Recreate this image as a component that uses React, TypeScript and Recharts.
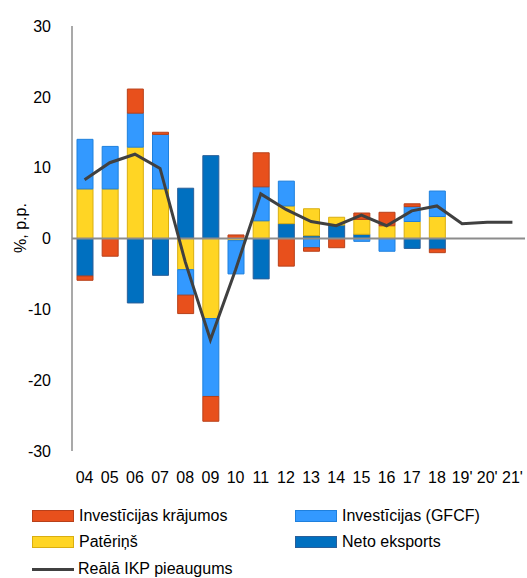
import { ComposedChart, Bar, Line, XAxis, YAxis, ReferenceLine } from 'recharts'

const years = ['04', '05', '06', '07', '08', '09', '10', '11', '12', '13', '14', '15', '16', '17', '18', "19'", "20'", "21'"]

// contributions, p.p.
const netoEksports = [-5.3, null, -9.1, -5.2, 7.1, 11.7, null, -5.7, 2.1, 0.4, 1.9, 0.6, null, -1.4, -1.5, null, null, null]
const paterins = [7.0, 7.0, 12.9, 7.0, -4.4, -11.3, -0.3, 2.5, 2.5, 3.8, 1.1, 2.1, 1.8, 2.4, 3.1, null, null, null]
const gfcf = [7.0, 6.0, 4.8, 7.7, -3.6, -11.0, -4.7, 4.8, 3.5, -1.3, null, -0.4, -1.8, 2.1, 3.6, null, null, null]
const krajumi = [-0.6, -2.5, 3.4, 0.3, -2.6, -3.5, 0.5, 4.8, -3.9, -0.5, -1.3, 0.9, 1.9, 0.4, -0.5, null, null, null]
const ikp = [8.3, 10.7, 11.9, 9.9, -3.3, -14.3, -4.4, 6.3, 4.1, 2.4, 1.8, 3.3, 1.8, 3.9, 4.6, 2.1, 2.3, 2.3]

const yTicks = [-30, -20, -10, 0, 10, 20, 30]

const data = years.map((y, i) => ({
  year: y,
  neto: netoEksports[i],
  pat: paterins[i],
  gfcf: gfcf[i],
  kraj: krajumi[i],
  ikp: ikp[i],
}))

const font = '"Liberation Sans", Arial, sans-serif'

const legendItems = [
  { label: 'Investīcijas krājumos', fill: '#E8501C', stroke: '#B8401A', x: 32, y: 509 },
  { label: 'Investīcijas (GFCF)', fill: '#3399FF', stroke: '#1F80DD', x: 295, y: 509 },
  { label: 'Patēriņš', fill: '#FFD524', stroke: '#D9AE10', x: 32, y: 535 },
  { label: 'Neto eksports', fill: '#0070C0', stroke: '#2A5F99', x: 295, y: 535 },
]

function YTitle() {
  return (
    <text
      x={20}
      y={228}
      transform="rotate(-90 20 228)"
      textAnchor="middle"
      dominantBaseline="central"
      fill="#000"
      fontSize={16}
      fontFamily={font}
    >
      %, p.p.
    </text>
  )
}

export default function App() {
  return (
    <div style={{ position: 'absolute', left: 0, top: 0, width: 527, height: 578, background: '#fff', fontFamily: font }}>
      <ComposedChart
        width={527}
        height={490}
        data={data}
        stackOffset="sign"
        barCategoryGap={0}
        margin={{ top: 26, right: 2, bottom: 0, left: 0 }}
      >
        <XAxis
          dataKey="year"
          axisLine={false}
          tickLine={false}
          tickSize={0}
          tickMargin={21}
          height={39}
          interval={0}
          tick={{ fill: '#000', fontSize: 16, fontFamily: font }}
        />
        <YAxis
          type="number"
          domain={[-30, 30]}
          ticks={yTicks}
          width={72}
          tickLine={false}
          tickMargin={15}
          stroke="#8c8c8c"
          strokeWidth={1.5}
          tick={{ fill: '#000', fontSize: 16, fontFamily: font }}
          label={<YTitle />}
        />
        <Bar dataKey="neto" stackId="a" fill="#0070C0" stroke="#2A5F99" barSize={16} isAnimationActive={false} />
        <Bar dataKey="pat" stackId="a" fill="#FFD524" stroke="#D9AE10" barSize={16} isAnimationActive={false} />
        <Bar dataKey="gfcf" stackId="a" fill="#3399FF" stroke="#1F80DD" barSize={16} isAnimationActive={false} />
        <Bar dataKey="kraj" stackId="a" fill="#E8501C" stroke="#B8401A" barSize={16} isAnimationActive={false} />
        <ReferenceLine y={0} stroke="#8c8c8c" strokeWidth={2} />
        <Line
          dataKey="ikp"
          type="linear"
          stroke="#404040"
          strokeWidth={3}
          dot={false}
          isAnimationActive={false}
        />
      </ComposedChart>
      {legendItems.map((it) => (
        <div key={it.label} style={{ position: 'absolute', left: it.x, top: it.y, display: 'flex', alignItems: 'center', height: 14 }}>
          <div style={{ width: 40, height: 10, background: it.fill, border: `1px solid ${it.stroke}` }} />
          <span style={{ marginLeft: 5, fontSize: 16, color: '#000', whiteSpace: 'nowrap' }}>{it.label}</span>
        </div>
      ))}
      <div style={{ position: 'absolute', left: 32, top: 562, display: 'flex', alignItems: 'center', height: 14 }}>
        <div style={{ width: 42, height: 3, background: '#404040' }} />
        <span style={{ marginLeft: 4, fontSize: 16, color: '#000', whiteSpace: 'nowrap' }}>Reālā IKP pieaugums</span>
      </div>
    </div>
  )
}
